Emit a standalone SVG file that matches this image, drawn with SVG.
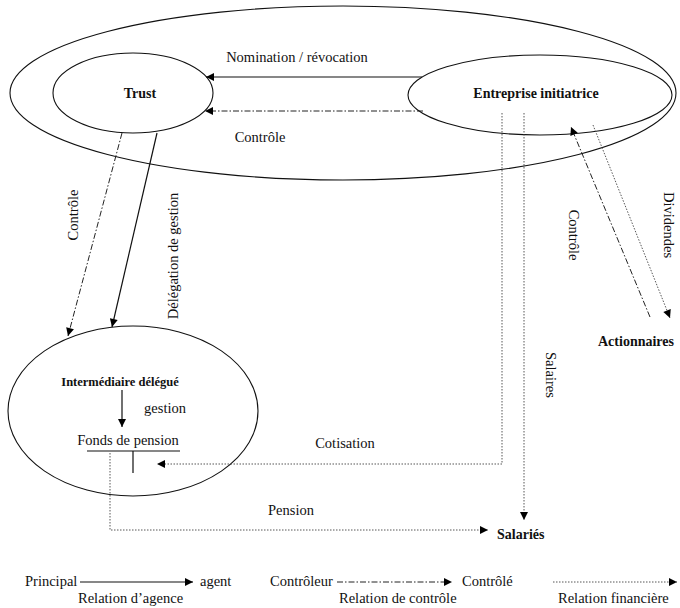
<svg xmlns="http://www.w3.org/2000/svg" width="680" height="608" viewBox="0 0 680 608">
<style>
text{font-family:"Liberation Serif","Times New Roman",serif;font-size:14.5px;fill:#111}
.b{font-weight:bold;font-size:14px}
.node{fill:none;stroke:#111;stroke-width:1.1}
.sol{fill:none;stroke:#111;stroke-width:1.2}
.ctl{fill:none;stroke:#222;stroke-width:1;stroke-dasharray:6 2 1.5 2}
.fin{fill:none;stroke:#444;stroke-width:0.9;stroke-dasharray:1.5 1.5}
</style>
<defs>
<marker id="ah" viewBox="0 0 10 10" refX="10" refY="5" markerWidth="10" markerHeight="8" orient="auto" markerUnits="userSpaceOnUse"><path d="M0,0 L10,5 L0,10 z" fill="#000"/></marker>
</defs>
<rect width="680" height="608" fill="#fff"/>

<g id="systeme"><ellipse class="node" cx="343" cy="93" rx="333" ry="87"/></g>
<g id="trust"><ellipse class="node" cx="133" cy="93" rx="80" ry="40"/><text class="b" x="140" y="98" text-anchor="middle">Trust</text></g>
<g id="entreprise"><ellipse class="node" cx="540" cy="95" rx="132" ry="40"/><text class="b" x="536" y="98" text-anchor="middle">Entreprise initiatrice</text></g>
<g id="intermediaire"><ellipse class="node" cx="133" cy="411" rx="125" ry="85"/><text class="b" x="120" y="386" text-anchor="middle" style="font-size:12.5px">Intermédiaire délégué</text></g>
<g id="fonds"><text x="128" y="445" text-anchor="middle">Fonds de pension</text><path class="sol" d="M87,451 H180 M133,451 V473"/></g>
<g id="salaries"><text class="b" x="497" y="539">Salariés</text></g>
<g id="actionnaires"><text class="b" x="598" y="346">Actionnaires</text></g>

<g id="connecteurs">
<path class="sol" d="M422,77 H206" marker-end="url(#ah)"/>
<path class="ctl" d="M423,111 H205" marker-end="url(#ah)"/>
<path class="ctl" d="M122,133 L68,336" marker-end="url(#ah)"/>
<path class="sol" d="M157,133 L112,327" marker-end="url(#ah)"/>
<path class="sol" d="M122,390 V427" marker-end="url(#ah)"/>
<path class="fin" d="M502,113 V464 H157" marker-end="url(#ah)"/>
<path class="fin" d="M524,113 V520" marker-end="url(#ah)"/>
<path class="fin" d="M110,453 V530 H488" marker-end="url(#ah)"/>
<path class="ctl" d="M650,317 L571,127" marker-end="url(#ah)"/>
<path class="fin" d="M593,125 L670,318" marker-end="url(#ah)"/>
<text x="297" y="62" text-anchor="middle">Nomination / révocation</text>
<text x="260" y="142" text-anchor="middle">Contrôle</text>
<text transform="translate(78,215) rotate(-90)" text-anchor="middle">Contrôle</text>
<text transform="translate(178,256) rotate(-90)" text-anchor="middle">Délégation de gestion</text>
<text x="165" y="413" text-anchor="middle">gestion</text>
<text x="345" y="448" text-anchor="middle">Cotisation</text>
<text x="291" y="515" text-anchor="middle">Pension</text>
<text transform="translate(546,375) rotate(90)" text-anchor="middle">Salaires</text>
<text transform="translate(569,235) rotate(90)" text-anchor="middle">Contrôle</text>
<text transform="translate(664,225) rotate(90)" text-anchor="middle">Dividendes</text>
</g>

<g id="legende">
<text x="25" y="586">Principal</text>
<path class="sol" d="M80,582 H193" marker-end="url(#ah)"/>
<text x="200" y="586">agent</text>
<text x="270" y="586">Contrôleur</text>
<path class="ctl" d="M337,582 H452" marker-end="url(#ah)"/>
<text x="462" y="586">Contrôlé</text>
<path class="fin" d="M553,582 H677" marker-end="url(#ah)"/>
<text x="78" y="603">Relation d’agence</text>
<text x="339" y="603">Relation de contrôle</text>
<text x="558" y="603">Relation financière</text>
</g>
</svg>
